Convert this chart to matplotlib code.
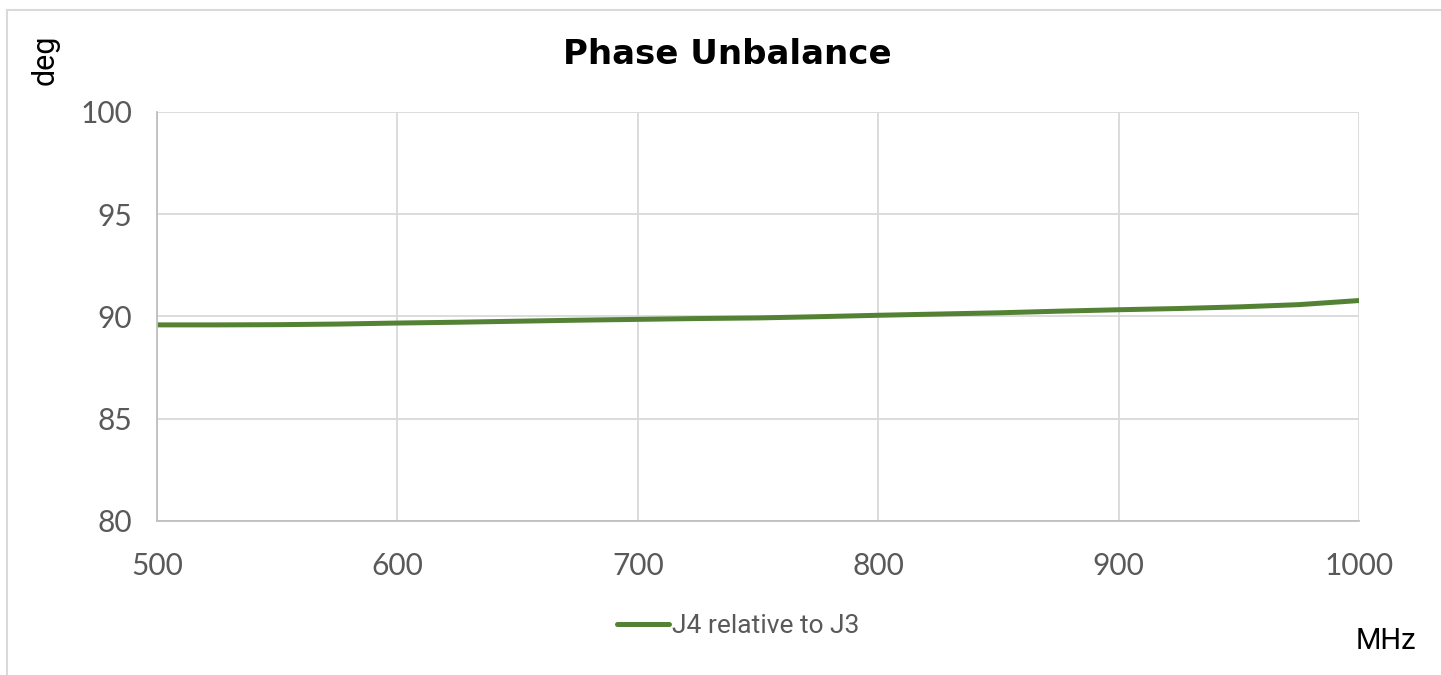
import matplotlib.pyplot as plt
from matplotlib.lines import Line2D

# data
freq = [500, 525, 550, 575, 600, 625, 650, 675, 700, 725, 750,
        775, 800, 825, 850, 875, 900, 925, 950, 975, 1000]
phase = [89.59, 89.59, 89.60, 89.63, 89.68, 89.72, 89.77, 89.82, 89.86, 89.90, 89.93,
         89.99, 90.06, 90.12, 90.18, 90.26, 90.33, 90.39, 90.47, 90.58, 90.78]
series_name = "J4 relative to J3"
xticks = [500, 600, 700, 800, 900, 1000]
yticks = [80, 85, 90, 95, 100]

plt.rcParams['font.family'] = ['Lato', 'DejaVu Sans']

fig = plt.figure(figsize=(14.41, 6.75), dpi=100)
ax = fig.add_axes([157/1441, 1 - 521/675, (1359-157)/1441, (521-112)/675])

ax.plot(freq, phase, color="#548235", lw=3.6, solid_capstyle="round", label=series_name)

ax.set_xlim(500, 1000)
ax.set_ylim(80, 100)
ax.set_xticks(xticks)
ax.set_yticks(yticks)
ax.grid(True, color="#d9d9d9", lw=1.3)
ax.set_axisbelow(True)
for s in ["top", "right"]:
    ax.spines[s].set_visible(False)
for s in ["left", "bottom"]:
    ax.spines[s].set_color("#bfbfbf")
    ax.spines[s].set_linewidth(1.3)
ax.tick_params(length=0, labelsize=21.5, labelcolor="#595959")
ax.tick_params(axis="x", pad=22)
ax.tick_params(axis="y", pad=18)

fig.text(727/1441, 1 - 54/675, "Phase Unbalance", ha="center", va="center",
         fontsize=24.5, fontweight="bold", color="black", family=['DejaVu Sans'])
fig.text(45/1441, 1 - 60/675, "deg", rotation=90, ha="center", va="center",
         fontsize=22, color="black", family=['Roboto', 'DejaVu Sans'])
fig.text(1386/1441, 1 - 641/675, "MHz", ha="center", va="center",
         fontsize=21, color="black", family=['Roboto', 'DejaVu Sans'])

leg = fig.legend(loc="center", bbox_to_anchor=(738/1441, 1 - 626/675), frameon=False,
                 handlelength=2.0, handletextpad=0.1, labelcolor="#595959",
                 prop={'family': ['Roboto', 'DejaVu Sans'], 'size': 19})

# chart border (top and left only visible)
fig.add_artist(Line2D([7/1441, 7/1441], [0, 1 - 10/675], color="#d9d9d9", lw=1.5))
fig.add_artist(Line2D([7/1441, 1], [1 - 10/675, 1 - 10/675], color="#d9d9d9", lw=1.5))

fig.savefig("out.png", dpi=100)
